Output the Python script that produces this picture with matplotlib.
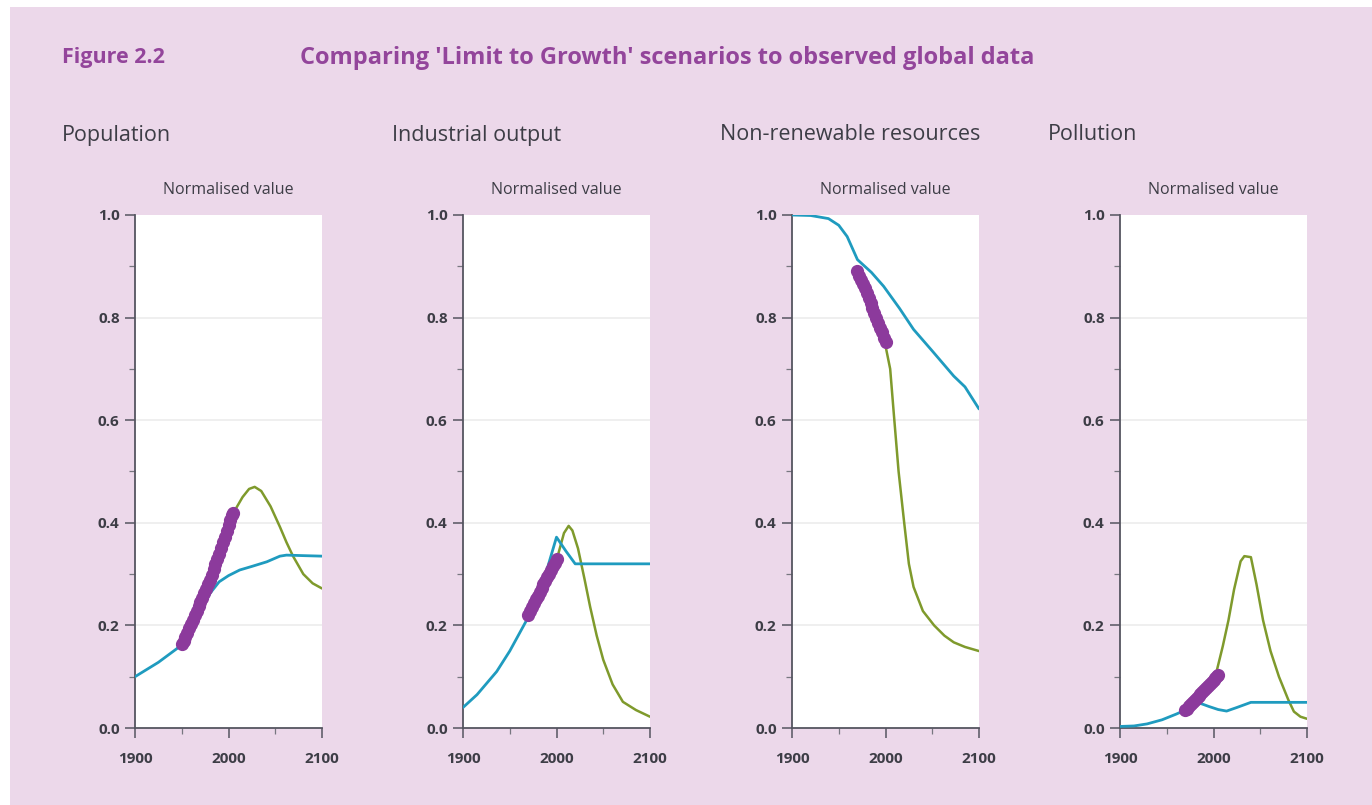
import matplotlib
matplotlib.use("Agg")
import matplotlib.pyplot as plt
from matplotlib.patches import Rectangle
from matplotlib.ticker import MultipleLocator

plt.rcParams['font.family'] = ['Open Sans', 'DejaVu Sans']

# ---------------- data ----------------
panel_titles = ["Population", "Industrial output", "Non-renewable resources", "Pollution"]

# Population
pop_blue_x = [1900, 1925, 1945, 1960, 1970, 1980, 1990, 2000, 2012, 2025, 2041, 2055, 2062, 2080, 2100]
pop_blue_y = [0.100, 0.128, 0.155, 0.190, 0.225, 0.262, 0.285, 0.297, 0.308, 0.315, 0.324, 0.335, 0.337, 0.336, 0.335]
pop_green_x = [1975, 1985, 2000, 2008, 2015, 2022, 2028, 2035, 2045, 2055, 2062, 2069, 2080, 2090, 2100]
pop_green_y = [0.270, 0.310, 0.395, 0.428, 0.450, 0.466, 0.470, 0.462, 0.432, 0.392, 0.362, 0.335, 0.300, 0.282, 0.272]
pop_obs_x = [1950, 1952, 1954, 1956, 1958, 1960, 1962, 1964, 1966, 1968, 1970, 1972, 1974, 1976,
             1978, 1980, 1982, 1984, 1986, 1988, 1990, 1992, 1994, 1996, 1998, 2000, 2002, 2004, 2005]
pop_obs_y = [0.163, 0.170, 0.178, 0.186, 0.195, 0.203, 0.211, 0.220, 0.229, 0.237, 0.246, 0.254,
             0.263, 0.271, 0.280, 0.289, 0.299, 0.310, 0.320, 0.330, 0.340, 0.351, 0.362, 0.373,
             0.384, 0.395, 0.405, 0.415, 0.420]

# Industrial output
ind_blue_x = [1900, 1915, 1936, 1950, 1968, 1980, 1990, 2000, 2010, 2020, 2050, 2100]
ind_blue_y = [0.040, 0.065, 0.110, 0.150, 0.210, 0.260, 0.310, 0.372, 0.345, 0.320, 0.320, 0.320]
ind_green_x = [2002, 2008, 2013, 2017, 2023, 2030, 2036, 2043, 2050, 2060, 2071, 2085, 2100]
ind_green_y = [0.340, 0.380, 0.394, 0.385, 0.350, 0.290, 0.236, 0.180, 0.133, 0.085, 0.051, 0.035, 0.022]
ind_obs_x = [1970, 1972, 1974, 1976, 1978, 1980, 1982, 1984, 1986, 1988, 1990, 1992, 1994, 1996, 1998, 2000]
ind_obs_y = [0.220, 0.228, 0.235, 0.243, 0.251, 0.258, 0.265, 0.273, 0.280, 0.287, 0.294, 0.301,
             0.308, 0.315, 0.322, 0.330]

# Non-renewable resources
res_blue_x = [1900, 1920, 1939, 1950, 1959, 1970, 1985, 1998, 2015, 2030, 2050, 2073, 2085, 2100]
res_blue_y = [1.000, 0.999, 0.993, 0.980, 0.958, 0.913, 0.888, 0.861, 0.818, 0.777, 0.735, 0.686, 0.665, 0.622]
res_green_x = [2000, 2005, 2009, 2014, 2020, 2025, 2030, 2040, 2052, 2063, 2073, 2085, 2100]
res_green_y = [0.745, 0.700, 0.610, 0.500, 0.400, 0.320, 0.275, 0.228, 0.200, 0.180, 0.167, 0.158, 0.150]
res_obs_x = [1970, 1972, 1974, 1976, 1978, 1980, 1982, 1984, 1986, 1988, 1990, 1992, 1994, 1996, 1998, 2000]
res_obs_y = [0.890, 0.882, 0.874, 0.866, 0.857, 0.847, 0.838, 0.828, 0.818, 0.808, 0.799, 0.790,
             0.780, 0.771, 0.761, 0.752]

# Pollution
pol_blue_x = [1900, 1915, 1929, 1945, 1960, 1970, 1980, 1986, 1995, 2005, 2014, 2025, 2040, 2070, 2100]
pol_blue_y = [0.003, 0.004, 0.008, 0.016, 0.027, 0.035, 0.045, 0.048, 0.042, 0.036, 0.033, 0.040, 0.050, 0.050, 0.050]
pol_green_x = [2003, 2010, 2016, 2022, 2029, 2033, 2040, 2046, 2053, 2061, 2070, 2080, 2086, 2093, 2100]
pol_green_y = [0.108, 0.160, 0.210, 0.270, 0.325, 0.335, 0.333, 0.280, 0.210, 0.150, 0.100, 0.055, 0.032, 0.022, 0.018]
pol_obs_x = [1970, 1972, 1974, 1976, 1978, 1980, 1982, 1984, 1986, 1988, 1990, 1992, 1994, 1996,
             1998, 2000, 2002, 2004, 2005]
pol_obs_y = [0.035, 0.038, 0.042, 0.046, 0.050, 0.054, 0.058, 0.062, 0.066, 0.070, 0.074, 0.078,
             0.082, 0.086, 0.090, 0.094, 0.098, 0.102, 0.104]

panels = [
    (pop_blue_x, pop_blue_y, pop_green_x, pop_green_y, pop_obs_x, pop_obs_y),
    (ind_blue_x, ind_blue_y, ind_green_x, ind_green_y, ind_obs_x, ind_obs_y),
    (res_blue_x, res_blue_y, res_green_x, res_green_y, res_obs_x, res_obs_y),
    (pol_blue_x, pol_blue_y, pol_green_x, pol_green_y, pol_obs_x, pol_obs_y),
]

y_ticks = [0.0, 0.2, 0.4, 0.6, 0.8, 1.0]
y_ticklabels = ["0.0", "0.2", "0.4", "0.6", "0.8", "1.0"]
x_ticks = [1900, 2000, 2100]
x_ticklabels = ["1900", "2000", "2100"]

# ---------------- style ----------------
W, H = 1372, 805
BG = "#ecd8ea"
PURPLE_TITLE = "#93459b"
BLUE = "#1f9bbf"
GREEN = "#7f9a2c"
OBS = "#8c3a9c"
DARK = "#3d3d46"

fig = plt.figure(figsize=(W / 100, H / 100), dpi=100)
fig.patch.set_facecolor("white")
fig.add_artist(Rectangle((10 / W, 0), 1 - 10 / W, 1 - 7 / H, transform=fig.transFigure,
                         facecolor=BG, edgecolor="none", zorder=-10))

fig.text(62 / W, 1 - 58 / H, "Figure 2.2", color=PURPLE_TITLE, fontsize=15.5,
         fontweight="bold", va="center", ha="left")
fig.text(300 / W, 1 - 58 / H, "Comparing 'Limit to Growth' scenarios to observed global data",
         color=PURPLE_TITLE, fontsize=17, fontweight="bold", va="center", ha="left")

lefts = [135, 463, 792, 1120]
title_x = [62, 392, 720, 1048]
ax_w = 187
ax_top, ax_bot = 215, 728

for i, (bx, by, gx, gy, ox, oy) in enumerate(panels):
    ax = fig.add_axes([lefts[i] / W, 1 - ax_bot / H, ax_w / W, (ax_bot - ax_top) / H])
    ax.set_facecolor("white")
    ax.set_xlim(1900, 2100)
    ax.set_ylim(0, 1.0)
    for s in ["top", "right"]:
        ax.spines[s].set_visible(False)
    for s in ["left", "bottom"]:
        ax.spines[s].set_color("#555560")
        ax.spines[s].set_linewidth(1.3)
    ax.set_yticks(y_ticks)
    ax.set_yticklabels(y_ticklabels)
    ax.set_xticks(x_ticks)
    ax.set_xticklabels(x_ticklabels)
    ax.yaxis.set_minor_locator(MultipleLocator(0.1))
    ax.xaxis.set_minor_locator(MultipleLocator(50))
    ax.tick_params(axis="both", which="major", direction="out", length=7, width=1.1,
                   color="#555560", labelsize=11, labelcolor=DARK, pad=4)
    ax.tick_params(axis="both", which="minor", direction="out", length=4, width=0.9,
                   color="#777780")
    for lab in ax.get_xticklabels() + ax.get_yticklabels():
        lab.set_fontweight("bold")
    ax.tick_params(axis="x", pad=10)
    for yv in [0.2, 0.4, 0.6, 0.8]:
        ax.axhline(yv, color="#ececec", linewidth=1.2, zorder=0)

    ax.plot(gx, gy, color=GREEN, linewidth=1.8, zorder=2, solid_capstyle="round")
    ax.plot(bx, by, color=BLUE, linewidth=2.0, zorder=3, solid_capstyle="round")
    ax.plot(ox, oy, linestyle="none", marker="o", markersize=8.5, color=OBS,
            markeredgecolor=OBS, zorder=4)

    fig.text(title_x[i] / W, 1 - 135 / H, panel_titles[i], color=DARK, fontsize=15.5,
             va="center", ha="left")
    fig.text((lefts[i] + 93) / W, 1 - 190 / H, "Normalised value", color=DARK,
             fontsize=11.5, va="center", ha="center")

fig.savefig("out.png", dpi=100, facecolor=fig.get_facecolor())
